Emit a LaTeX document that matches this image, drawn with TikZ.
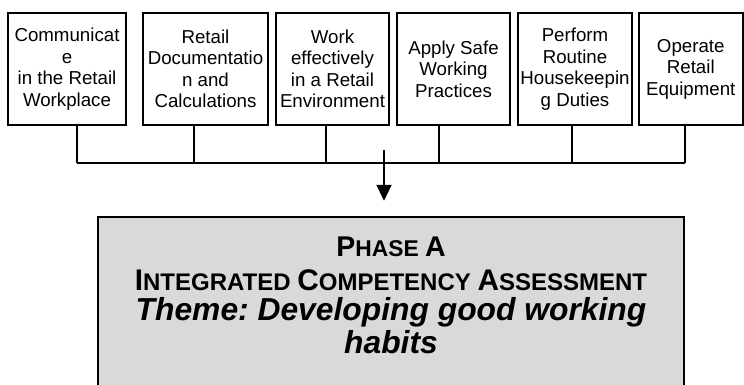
\documentclass[tikz,border=0pt]{standalone}
\usepackage{fontspec}
\setmainfont{Liberation Sans}
\usetikzlibrary{arrows.meta}
\frenchspacing

% small capitals built from two sizes of the bold face
\newcommand{\capbig}[1]{{\fontsize{28.5}{30}\selectfont #1}}
\newcommand{\capsmall}[1]{{\fontsize{22.8}{30}\selectfont #1}}
\newcommand{\wcapbig}[1]{{\fontsize{29.8}{30}\selectfont #1}}
\newcommand{\wcapsmall}[1]{{\fontsize{24}{30}\selectfont #1}}

\begin{document}
\begin{tikzpicture}[x=1pt,y=-1pt,
  unitbox/.style={draw, line width=2pt, minimum height=112pt, inner sep=0pt,
    align=center, font=\fontsize{18.7}{21.5}\selectfont},
  link/.style={line width=2pt},
  feed/.style={line width=2pt, -{Triangle[length=16pt,width=15pt]}},
  assess/.style={draw, line width=2.4pt, fill=black!15, inner sep=0pt},
  title/.style={anchor=base, inner sep=0pt, font=\bfseries},
  theme/.style={anchor=base, inner sep=0pt,
    font=\fontsize{31.8}{31.8}\selectfont\bfseries\itshape}]
\useasboundingbox (0,0) rectangle (744,385);
\clip (0,0) rectangle (744,385);

% unit boxes
\node[unitbox, minimum width=118pt]   (b1) at (67,69)     {Communicat\\e\\in the Retail\\Workplace};
\node[unitbox, minimum width=125pt]   (b2) at (205.5,69)  {Retail\\Documentatio\\n and\\Calculations};
\node[unitbox, minimum width=113pt]   (b3) at (332.5,69)  {Work\\effectively\\in a Retail\\Environment};
\node[unitbox, minimum width=113pt]   (b4) at (453.5,69)  {Apply Safe\\Working\\Practices};
\node[unitbox, minimum width=114pt]   (b5) at (575,69)    {Perform\\Routine\\Housekeepin\\g Duties};
\node[unitbox, minimum width=103.5pt] (b6) at (690.75,69) {Operate\\Retail\\Equipment};

% collecting bus
\coordinate (bus) at (0,163);
\coordinate (d1) at ([xshift=10pt]b1.south);
\coordinate (d2) at ([xshift=-11.5pt]b2.south);
\coordinate (d3) at ([xshift=-6.5pt]b3.south);
\coordinate (d4) at ([xshift=-14.5pt]b4.south);
\coordinate (d5) at ([xshift=-3pt]b5.south);
\coordinate (d6) at ([xshift=-5.75pt]b6.south);
\foreach \d in {d1,d2,d3,d4,d5,d6}
  \draw[link] (\d) -- (\d |- bus);
\draw[link] (d1 |- bus) -- (d6 |- bus);

% assessment box
\node[assess, minimum width=586pt, minimum height=203pt] (phase) at (391,318.5) {};

% feed arrow
\coordinate (feedtop) at (384,150);
\draw[feed, shorten >=15pt] (feedtop) -- (feedtop |- phase.north);

% assessment text
\node[title] (ph) at (391,256.7) {\capbig{P}\capsmall{HASE }\capbig{A}};
\node[title] (ica) at (391,290) {\wcapbig{I}\wcapsmall{NTEGRATED }\wcapbig{C}\wcapsmall{OMPETENCY }\wcapbig{A}\wcapsmall{SSESSMENT}};
\node[theme] (th1) at (391,320.5) {Theme: Developing good working};
\node[theme] (th2) at (391,353) {habits};
\end{tikzpicture}
\end{document}
